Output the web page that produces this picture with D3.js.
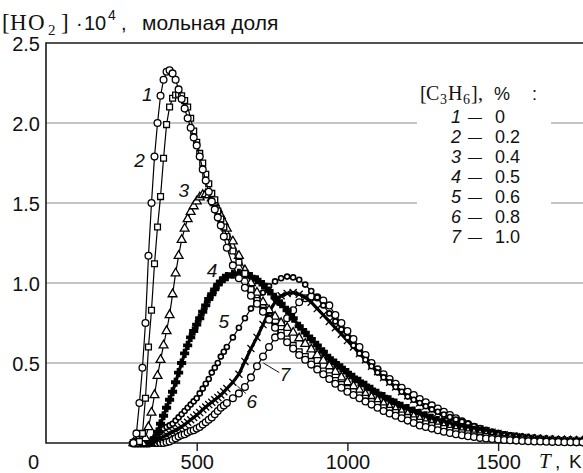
<!DOCTYPE html>
<html>
<head>
<meta charset="utf-8">
<script src="https://cdn.jsdelivr.net/npm/d3@7"></script>
<style>
  body { margin: 0; background: #fff; }
  svg { display: block; font-family: "Liberation Sans", Arial, sans-serif; }
  .serif { font-family: "Liberation Serif", "Times New Roman", serif; }
</style>
</head>
<body>
<script>
// temperature grid, K
const temps = [290, 300, 310, 320, 330, 340, 350, 360, 370, 380, 390, 400, 410, 420, 430, 440, 450, 460, 470, 480,
  490, 500, 510, 520, 530, 540, 550, 560, 570, 580, 590, 600, 620, 640, 660, 680, 700, 720, 740, 760,
  780, 800, 820, 840, 860, 880, 900, 920, 940, 960, 980, 1000, 1020, 1040, 1060, 1080, 1100, 1120, 1140, 1160,
  1180, 1200, 1220, 1240, 1260, 1280, 1300, 1320, 1340, 1360, 1380, 1400, 1420, 1440, 1460, 1480, 1500, 1520, 1540, 1560,
  1580, 1600, 1620, 1640, 1660, 1680, 1700, 1720, 1740, 1760, 1780];

// [HO2]*1e4 for each propylene content
const ho2_0 = [0, 0.06, 0.25, 0.47, 0.75, 1.17, 1.50, 1.79, 2.00, 2.17, 2.27, 2.32, 2.33, 2.31, 2.27, 2.21, 2.15, 2.09, 2.03, 1.97,
  1.91, 1.86, 1.79, 1.71, 1.64, 1.57, 1.51, 1.46, 1.41, 1.36, 1.29, 1.22, 1.11, 1.03, 0.97, 0.92, 0.87, 0.82, 0.77, 0.72,
  0.67, 0.63, 0.59, 0.55, 0.52, 0.49, 0.46, 0.43, 0.40, 0.37, 0.345, 0.32, 0.30, 0.28, 0.26, 0.24, 0.22, 0.20, 0.185, 0.17,
  0.155, 0.14, 0.125, 0.11, 0.10, 0.09, 0.08, 0.07, 0.062, 0.055, 0.048, 0.042, 0.037, 0.032, 0.028, 0.025, 0.022, 0.019, 0.017, 0.015,
  0.013, 0.011, 0.010, 0.009, 0.008, 0.007, 0.006, 0.005, 0.005, 0.004, 0.004];
const ho2_02 = [0, 0, 0.01, 0.06, 0.28, 0.60, 0.83, 1.12, 1.35, 1.54, 1.78, 1.99, 2.10, 2.155, 2.175, 2.18, 2.17, 2.14, 2.10, 2.03,
  1.95, 1.88, 1.81, 1.75, 1.68, 1.62, 1.56, 1.52, 1.45, 1.40, 1.35, 1.29, 1.20, 1.13, 1.06, 0.96, 0.89, 0.83, 0.78, 0.73,
  0.69, 0.65, 0.61, 0.57, 0.54, 0.51, 0.48, 0.45, 0.42, 0.39, 0.365, 0.34, 0.32, 0.30, 0.28, 0.26, 0.24, 0.22, 0.205, 0.19,
  0.175, 0.16, 0.145, 0.13, 0.12, 0.11, 0.10, 0.09, 0.08, 0.072, 0.064, 0.057, 0.050, 0.045, 0.040, 0.035, 0.031, 0.028, 0.025, 0.022,
  0.020, 0.018, 0.016, 0.014, 0.013, 0.012, 0.011, 0.010, 0.010, 0.010, 0.010];
const ho2_04 = [0, 0, 0, 0, 0.03, 0.10, 0.19, 0.30, 0.42, 0.52, 0.61, 0.70, 0.80, 0.93, 1.06, 1.17, 1.27, 1.34, 1.40, 1.445,
  1.48, 1.51, 1.535, 1.55, 1.555, 1.55, 1.53, 1.50, 1.46, 1.42, 1.38, 1.34, 1.26, 1.17, 1.08, 1.00, 0.94, 0.88, 0.83, 0.79,
  0.75, 0.72, 0.69, 0.655, 0.62, 0.585, 0.55, 0.515, 0.48, 0.445, 0.41, 0.38, 0.355, 0.33, 0.305, 0.285, 0.265, 0.245, 0.225, 0.21,
  0.195, 0.18, 0.165, 0.15, 0.135, 0.125, 0.115, 0.105, 0.095, 0.085, 0.077, 0.070, 0.063, 0.056, 0.050, 0.045, 0.040, 0.036, 0.032, 0.028,
  0.025, 0.022, 0.019, 0.017, 0.015, 0.013, 0.012, 0.011, 0.010, 0.009, 0.008];
const ho2_05 = [0, 0, 0, 0, 0, 0, 0.01, 0.03, 0.07, 0.12, 0.17, 0.22, 0.27, 0.32, 0.38, 0.44, 0.50, 0.56, 0.61, 0.66,
  0.70, 0.74, 0.78, 0.82, 0.86, 0.90, 0.93, 0.96, 0.99, 1.01, 1.03, 1.04, 1.055, 1.06, 1.055, 1.04, 1.02, 0.99, 0.95, 0.91,
  0.87, 0.83, 0.78, 0.73, 0.69, 0.65, 0.61, 0.57, 0.53, 0.50, 0.47, 0.44, 0.41, 0.385, 0.36, 0.335, 0.31, 0.29, 0.27, 0.25,
  0.23, 0.215, 0.20, 0.185, 0.17, 0.155, 0.14, 0.13, 0.118, 0.107, 0.097, 0.088, 0.079, 0.071, 0.064, 0.057, 0.051, 0.046, 0.041, 0.037,
  0.033, 0.029, 0.026, 0.023, 0.020, 0.018, 0.016, 0.014, 0.013, 0.012, 0.011];
const ho2_06 = [0, 0, 0, 0, 0, 0, 0.01, 0.03, 0.05, 0.07, 0.09, 0.10, 0.11, 0.12, 0.14, 0.16, 0.18, 0.20, 0.22, 0.24,
  0.26, 0.28, 0.31, 0.34, 0.37, 0.40, 0.44, 0.47, 0.50, 0.54, 0.57, 0.60, 0.66, 0.72, 0.78, 0.84, 0.89, 0.94, 0.98, 1.01,
  1.03, 1.04, 1.035, 1.02, 0.99, 0.95, 0.91, 0.86, 0.81, 0.76, 0.71, 0.66, 0.61, 0.56, 0.52, 0.48, 0.44, 0.41, 0.38, 0.35,
  0.32, 0.29, 0.27, 0.25, 0.23, 0.21, 0.195, 0.178, 0.162, 0.147, 0.133, 0.12, 0.105, 0.093, 0.082, 0.072, 0.063, 0.055, 0.048, 0.042,
  0.036, 0.031, 0.027, 0.023, 0.020, 0.017, 0.015, 0.013, 0.011, 0.010, 0.009];
const ho2_08 = [0, 0, 0, 0, 0, 0, 0, 0.01, 0.02, 0.03, 0.04, 0.05, 0.06, 0.07, 0.08, 0.09, 0.10, 0.115, 0.13, 0.145,
  0.16, 0.175, 0.19, 0.21, 0.225, 0.24, 0.255, 0.27, 0.285, 0.30, 0.32, 0.34, 0.38, 0.43, 0.51, 0.59, 0.66, 0.74, 0.82, 0.88,
  0.92, 0.935, 0.94, 0.93, 0.91, 0.88, 0.84, 0.80, 0.76, 0.72, 0.68, 0.64, 0.60, 0.56, 0.52, 0.48, 0.445, 0.41, 0.38, 0.35,
  0.32, 0.295, 0.27, 0.25, 0.23, 0.21, 0.19, 0.17, 0.155, 0.14, 0.125, 0.11, 0.098, 0.087, 0.077, 0.068, 0.060, 0.052, 0.045, 0.039,
  0.034, 0.029, 0.025, 0.022, 0.019, 0.016, 0.014, 0.012, 0.011, 0.010, 0.009];
const ho2_10 = [0, 0, 0, 0, 0, 0, 0, 0, 0, 0, 0, 0.005, 0.01, 0.02, 0.03, 0.04, 0.05, 0.055, 0.065, 0.075,
  0.08, 0.09, 0.10, 0.115, 0.13, 0.145, 0.16, 0.18, 0.20, 0.22, 0.235, 0.25, 0.28, 0.31, 0.35, 0.41, 0.48, 0.54, 0.60, 0.66,
  0.72, 0.78, 0.83, 0.88, 0.905, 0.915, 0.91, 0.89, 0.86, 0.80, 0.75, 0.70, 0.65, 0.60, 0.55, 0.50, 0.46, 0.43, 0.40, 0.37,
  0.345, 0.32, 0.30, 0.275, 0.255, 0.235, 0.215, 0.195, 0.175, 0.155, 0.135, 0.118, 0.102, 0.088, 0.075, 0.064, 0.055, 0.047, 0.040, 0.034,
  0.029, 0.025, 0.021, 0.018, 0.016, 0.014, 0.012, 0.010, 0.009, 0.008, 0.007];

const seriesValues = [ho2_0, ho2_02, ho2_04, ho2_05, ho2_06, ho2_08, ho2_10];
const seriesMarkers = ["circle", "square", "triangle", "cross", "smallcircle", "x", "circle"];

// legend and labels
const legendNums = ["1", "2", "3", "4", "5", "6", "7"];
const legendVals = ["0", "0.2", "0.4", "0.5", "0.6", "0.8", "1.0"];
const xTicks = [0, 500, 1000, 1500];
const yTicks = [0.5, 1.0, 1.5, 2.0, 2.5];
const yGrid = [0.5, 1.0, 1.5, 2.0];

// curve number labels placed in the plot (T, value)
const curveLabels = [
  { n: "1", T: 336, v: 2.18 },
  { n: "2", T: 310, v: 1.77 },
  { n: "3", T: 457, v: 1.58 },
  { n: "4", T: 551, v: 1.08 },
  { n: "5", T: 590, v: 0.76 },
  { n: "6", T: 683, v: 0.26 },
  { n: "7", T: 793, v: 0.43 }
];
// leader lines for 6 and 7: [from T, v, to T, v]
const leaders = [
  [663, 0.31, 635, 0.355],
  [774, 0.44, 721, 0.50]
];

const width = 583;
const height = 473;
const marginLeft = 46;
const marginTop = 43;
const plotBottom = 443;

const x = d3.scaleLinear().domain([0, 1780]).range([marginLeft, 582.5]);
const y = d3.scaleLinear().domain([0, 2.5]).range([plotBottom, marginTop]);

const svg = d3.select("body").append("svg")
    .attr("width", width)
    .attr("height", height)
    .attr("viewBox", [0, 0, width, height]);

// grid lines
svg.append("g")
    .selectAll("line")
    .data(yGrid)
    .join("line")
    .attr("x1", marginLeft)
    .attr("x2", width)
    .attr("y1", d => y(d))
    .attr("y2", d => y(d))
    .attr("stroke", "#8c8c8c")
    .attr("stroke-width", 1.2);

// white patch behind the legend
svg.append("rect")
    .attr("x", 417)
    .attr("y", 70)
    .attr("width", 134)
    .attr("height", 186)
    .attr("fill", "#fff");

// frame
svg.append("path")
    .attr("d", `M${width},${marginTop}H${marginLeft}V${plotBottom}H${width}`)
    .attr("fill", "none")
    .attr("stroke", "#1a1a1a")
    .attr("stroke-width", 1.6);

// x axis
svg.append("g")
    .attr("transform", `translate(0,${plotBottom})`)
    .call(d3.axisBottom(x).tickValues(xTicks).tickSize(8).tickPadding(4).tickFormat(d3.format("d")))
    .call(g => g.select(".domain").remove())
    .call(g => g.selectAll(".tick line").attr("stroke", "#1a1a1a").attr("stroke-width", 1.4)
        .filter(d => d === 0).remove())
    .call(g => g.selectAll(".tick text")
        .attr("fill", "#111")
        .style("font-size", "20px")
        .style("font-family", "Liberation Sans, Arial, sans-serif")
        .attr("dx", d => d === 0 ? -13 : 0));

// y axis labels
svg.append("g")
    .attr("transform", `translate(${marginLeft},0)`)
    .call(d3.axisLeft(y).tickValues(yTicks).tickSize(0).tickPadding(6).tickFormat(d3.format(".1f")))
    .call(g => g.select(".domain").remove())
    .call(g => g.selectAll(".tick text")
        .attr("fill", "#111")
        .attr("dy", "0.36em")
        .style("font-size", "20px")
        .style("font-family", "Liberation Sans, Arial, sans-serif"));

// series
const line = d3.line()
    .x((d, i) => x(temps[i]))
    .y(d => y(d));

const symbolFor = {
  circle: d3.symbol(d3.symbolCircle, 36),
  smallcircle: d3.symbol(d3.symbolCircle, 20),
  square: d3.symbol(d3.symbolSquare, 34),
  triangle: d3.symbol(d3.symbolTriangle, 34),
  cross: d3.symbol(d3.symbolCross, 34),
  x: d3.symbol(d3.symbolTimes, 34)
};

const drawOrder = [6, 5, 4, 3, 2, 1, 0];
drawOrder.forEach(si => {
  const vals = seriesValues[si];
  const kind = seriesMarkers[si];
  const dense = kind === "cross" || kind === "x";
  const g = svg.append("g");

  g.append("path")
      .datum(vals)
      .attr("d", line)
      .attr("fill", "none")
      .attr("stroke", "#000")
      .attr("stroke-width", dense ? 3.2 : 1.2);

  g.selectAll("path.mark")
      .data(vals)
      .join("path")
      .attr("class", "mark")
      .attr("transform", (d, i) => `translate(${x(temps[i])},${y(d)})`)
      .attr("d", symbolFor[kind]())
      .attr("fill", dense ? "#000" : "#fff")
      .attr("stroke", "#000")
      .attr("stroke-width", kind === "smallcircle" ? 1.6 : 1.3);
});

// curve number labels
svg.append("g")
    .selectAll("text")
    .data(curveLabels)
    .join("text")
    .attr("x", d => x(d.T))
    .attr("y", d => y(d.v))
    .attr("text-anchor", "middle")
    .attr("dy", "0.36em")
    .style("font-size", "19px")
    .style("font-style", "italic")
    .attr("fill", "#111")
    .text(d => d.n);

svg.append("g")
    .selectAll("line")
    .data(leaders)
    .join("line")
    .attr("x1", d => x(d[0]))
    .attr("y1", d => y(d[1]))
    .attr("x2", d => x(d[2]))
    .attr("y2", d => y(d[3]))
    .attr("stroke", "#111")
    .attr("stroke-width", 1);

// small helper for pieces of mixed-font text
function piece(g, txt, px, py, size, cls, italic) {
  const t = g.append("text").attr("x", px).attr("y", py).style("font-size", size + "px").text(txt);
  if (cls) t.attr("class", cls);
  if (italic) t.style("font-style", "italic");
  return t;
}

// y title: [HO2]·10^4, мольная доля
const yTitle = svg.append("g").attr("fill", "#111");
piece(yTitle, "[", 2, 30, 23, "serif");
piece(yTitle, "H", 10, 30, 23, "serif");
piece(yTitle, "O", 28, 30, 23, "serif");
piece(yTitle, "2", 48, 35, 15, "serif");
piece(yTitle, "]", 61, 30, 23, "serif");
piece(yTitle, "·", 76, 30, 20);
piece(yTitle, "10", 84, 30, 20);
piece(yTitle, "4", 108, 20, 14);
piece(yTitle, ",", 121, 30, 20);
piece(yTitle, "мольная доля", 142, 30, 21);

// x title
const xTitle = svg.append("g").attr("fill", "#111");
piece(xTitle, "T", 539, 468, 21, "serif", true);
piece(xTitle, ",", 555, 468, 19);
piece(xTitle, "K", 569, 468, 19);

// legend
const legend = svg.append("g").attr("fill", "#111");
piece(legend, "[", 420, 100, 20, "serif");
piece(legend, "C", 426, 100, 20, "serif");
piece(legend, "3", 440, 104, 14, "serif");
piece(legend, "H", 448, 100, 20, "serif");
piece(legend, "6", 463, 104, 14, "serif");
piece(legend, "]", 471, 100, 20, "serif");
piece(legend, ",", 478, 100, 20, "serif");
piece(legend, "%", 494, 100, 18);
piece(legend, ":", 532, 100, 18);

const rows = legend.selectAll("g.row")
    .data(legendNums)
    .join("g")
    .attr("class", "row")
    .attr("transform", (d, i) => `translate(0,${123 + i * 20})`);
rows.append("text")
    .attr("x", 456)
    .attr("text-anchor", "middle")
    .style("font-size", "18px")
    .style("font-style", "italic")
    .text(d => d);
rows.append("text")
    .attr("x", 468)
    .attr("y", -1)
    .style("font-size", "14px")
    .text("—");
rows.append("text")
    .attr("x", 495)
    .style("font-size", "18px")
    .text((d, i) => legendVals[i]);
</script>
</body>
</html>
